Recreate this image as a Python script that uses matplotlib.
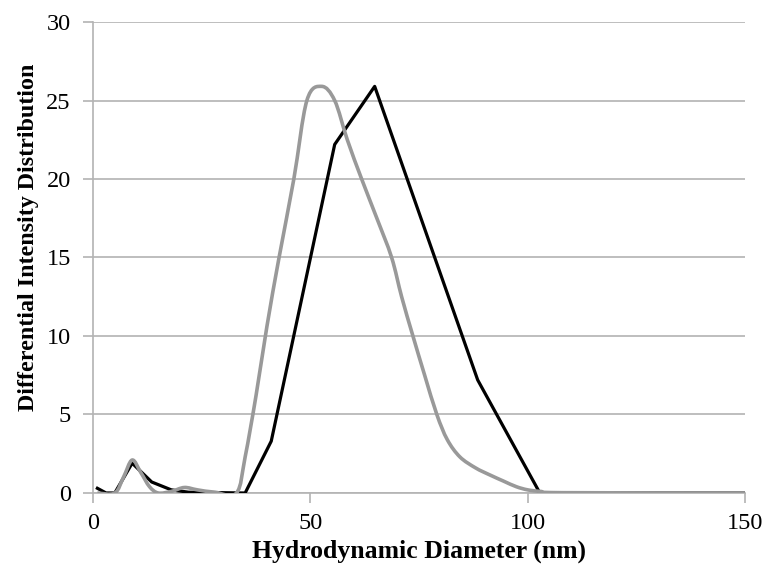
import matplotlib
matplotlib.use("Agg")
import matplotlib.pyplot as plt
import numpy as np
from matplotlib.path import Path
from matplotlib.patches import PathPatch

# Black series (sample A)
black_x = [1, 3, 5, 9, 13.5, 18, 22, 35, 41, 55.6, 64.8, 88.5, 102.8, 150]
black_y = [0.3, 0.0, 0.0, 1.9, 0.7, 0.2, 0.05, 0.0, 3.3, 22.2, 25.9, 7.2, 0.0, 0.0]

# Gray series (sample B)
gray_x = [1, 5, 7, 9, 11, 13, 15, 18, 21, 24, 28, 33, 35, 37.5, 40, 42.8, 46.2, 49.2,
          52.6, 55.6, 58.5, 61.8, 65.3, 68.7, 71, 73.6, 76.3, 79.1, 81.5, 84.4,
          88, 91.3, 94.5, 97.4, 100, 103, 108, 150]
gray_y = [0.0, 0.0, 1.0, 2.1, 1.3, 0.4, 0.0, 0.1, 0.35, 0.2, 0.05, 0.0, 2.3, 6.2, 10.6,
          15.0, 20.0, 25.0, 25.9, 25.0, 22.5, 20.0, 17.5, 15.0, 12.5, 10.0,
          7.5, 5.0, 3.4, 2.3, 1.6, 1.15, 0.75, 0.4, 0.2, 0.1, 0.02, 0.0]

x_ticks = [0, 50, 100, 150]
y_ticks = [0, 5, 10, 15, 20, 25, 30]
x_label = "Hydrodynamic Diameter (nm)"
y_label = "Differential Intensity Distribution"

plt.rcParams['font.family'] = ['Liberation Serif', 'DejaVu Serif']


def smooth_path(xs, ys):
    """Catmull-Rom style cubic Bezier path through the data points (like a smoothed line)."""
    p = np.column_stack([xs, ys]).astype(float)
    n = len(p)
    verts = [p[0]]
    codes = [Path.MOVETO]
    for i in range(n - 1):
        p0 = p[i - 1] if i > 0 else p[i]
        p1 = p[i]
        p2 = p[i + 1]
        p3 = p[i + 2] if i + 2 < n else p[i + 1]
        c1 = p1 + (p2 - p0) / 6.0
        c2 = p2 - (p3 - p1) / 6.0
        verts += [c1, c2, p2]
        codes += [Path.CURVE4] * 3
    return Path(verts, codes)


fig = plt.figure(figsize=(7.67, 5.70), dpi=100)
ax = fig.add_axes([0.1213, 0.1351, 0.85, 0.8263])

grid_c = '#b3b3b3'
ax.plot(black_x, black_y, color='black', lw=2.3, solid_joinstyle='round', zorder=3)
ax.add_patch(PathPatch(smooth_path(gray_x, gray_y), facecolor='none', edgecolor='#999999',
                       lw=2.6, joinstyle='round', zorder=3))

ax.set_xlim(0, 150)
ax.set_ylim(0, 30)
ax.set_xticks(x_ticks)
ax.set_yticks(y_ticks)
ax.yaxis.grid(True, color=grid_c, lw=1.2)
ax.set_axisbelow(True)
for s in ['top', 'right']:
    ax.spines[s].set_visible(False)
for s in ['left', 'bottom']:
    ax.spines[s].set_color(grid_c)
    ax.spines[s].set_linewidth(1.2)
ax.tick_params(axis='both', colors=grid_c, length=7, width=1.2, labelsize=17.5,
               labelcolor='black')
ax.tick_params(axis='y', pad=9)
ax.tick_params(axis='x', pad=7.5)
ax.set_xlabel(x_label, fontsize=18.5, fontweight='bold', labelpad=4)
ax.set_ylabel(y_label, fontsize=17.3, fontweight='bold', labelpad=5)
ax.yaxis.label.set_y(0.5425)

fig.savefig('out.png', dpi=100)
